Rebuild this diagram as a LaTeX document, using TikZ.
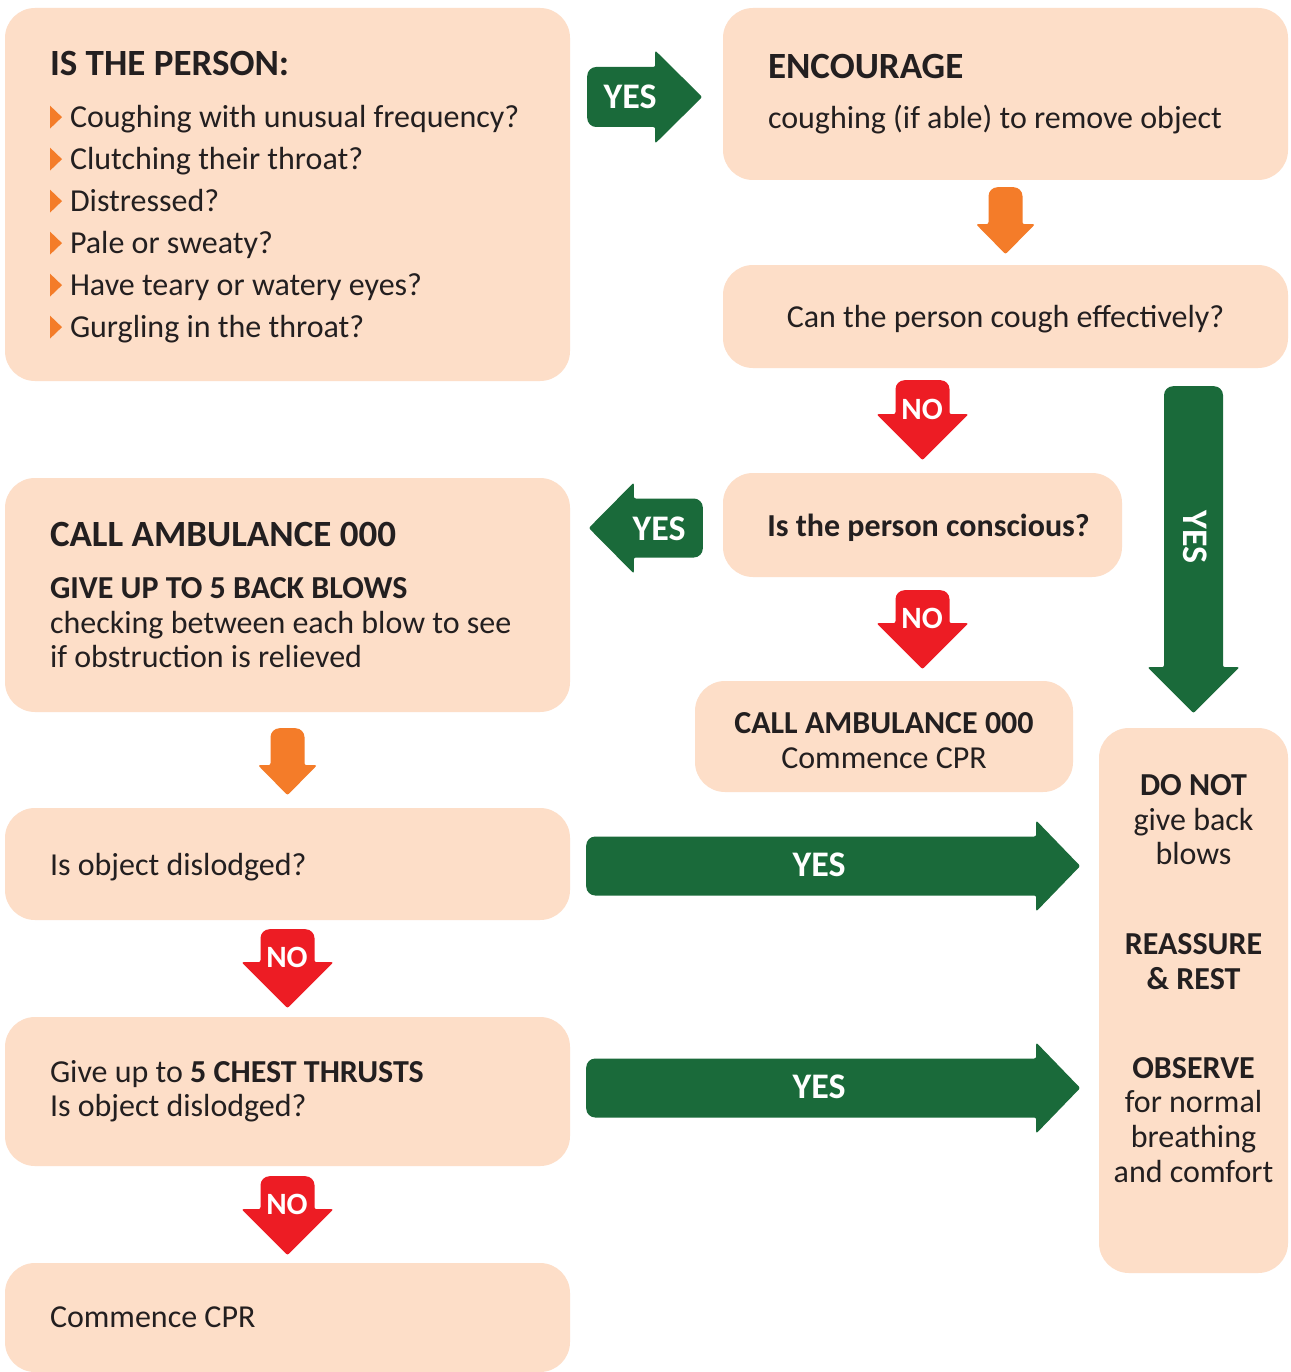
\documentclass[tikz,border=0pt]{standalone}
\usepackage{fontspec}
\setmainfont{Carlito}
\usetikzlibrary{calc}

\definecolor{peach}{RGB}{253,222,200}
\definecolor{darkgreen}{RGB}{26,106,58}
\definecolor{arroworange}{RGB}{244,124,41}
\definecolor{alertred}{RGB}{237,28,36}
\definecolor{inktext}{RGB}{35,31,32}

% block arrow: colour, tail point, angle, length, head length, shaft half width, head half width
\newcommand{\blockarrow}[7]{%
  \begin{scope}[shift={#2}, rotate=#3]
    \fill[#1] (#4-#5,-#6) [rounded corners=9pt] -- (0,-#6) -- (0,#6)
      [rounded corners=2pt] -- (#4-#5,#6) -- (#4-#5,#7) -- (#4,0) -- (#4-#5,-#7) -- cycle;
  \end{scope}}
\newcommand{\bulletmark}{\raisebox{-1pt}{\tikz[x=1pt,y=1pt,sharp corners]\fill[arroworange] (0,0) -- (0,23) -- (12,11.5) -- cycle;}\hspace{8pt}}

\begin{document}
\begin{tikzpicture}[x=1pt, y=-1pt,
  card/.style={fill=peach, rounded corners=30pt, inner sep=0pt, text=inktext,
    font=\fontsize{32}{35}\selectfont},
  oneline/.style={text depth=0pt},
  lefttext/.style={align=flush left, inner xsep=45pt, text width=475pt},
  tag/.style={text=white, inner sep=0pt, font=\bfseries\fontsize{36}{36}\selectfont},
  notag/.style={tag, font=\bfseries\fontsize{31}{31}\selectfont},
]
\fill[white, use as bounding box] (0,0) rectangle (1290,1372);

% boxes
\node[card, lefttext, minimum width=565pt, minimum height=373pt, text depth=262pt,
  font=\fontsize{32}{42}\selectfont] (isperson) at (287.5,194.5)
  {{\fontsize{37}{42}\selectfont\bfseries IS THE PERSON:}\\[10pt]
   \bulletmark Coughing with unusual frequency?\\
   \bulletmark Clutching their throat?\\
   \bulletmark Distressed?\\
   \bulletmark Pale or sweaty?\\
   \bulletmark Have teary or watery eyes?\\
   \bulletmark Gurgling in the throat?};
\node[card, lefttext, minimum width=565pt, minimum height=172pt,
  font=\fontsize{32}{38}\selectfont] (encourage) at (1005.5,94)
  {{\fontsize{37}{38}\selectfont\bfseries ENCOURAGE}\\[12pt]
   coughing (if able) to remove object};
\node[card, oneline, minimum width=565pt, minimum height=103pt] (cough) at (1005.5,316.5)
  {Can the person cough effectively?};
\node[card, oneline, minimum width=399pt, minimum height=104pt, font=\bfseries\fontsize{32}{35}\selectfont]
  (conscious) at (922.5,525) {\hspace{12pt}Is the person conscious?};
\node[card, lefttext, minimum width=565pt, minimum height=234pt,
  font=\fontsize{32}{34.5}\selectfont] (ambulance) at (287.5,595)
  {{\fontsize{37}{34.5}\selectfont\bfseries CALL AMBULANCE 000}\\[17.5pt]
   \textbf{GIVE UP TO 5 BACK BLOWS}\\
   checking between each blow to see\\
   if obstruction is relieved};
\node[card, align=flush center, text width=340pt, inner xsep=19pt, text depth=27pt,
  minimum width=378pt, minimum height=111pt] (callcpr) at (884,736.5)
  {\textbf{CALL AMBULANCE 000}\\ Commence CPR};
\node[card, minimum width=189pt, minimum height=545pt] (donot) at (1193.5,1000.5) {};
\node[text=inktext, align=center, inner sep=0pt, font=\fontsize{32}{34.7}\selectfont]
  (donottext) at ($(donot.center)+(0,-22)$)
  {\textbf{DO NOT}\\ give back\\ blows\\[55pt]
   \textbf{REASSURE}\\ \textbf{\&~REST}\\[54pt]
   \textbf{OBSERVE}\\ for normal\\ breathing\\ and comfort};
\node[card, oneline, lefttext, minimum width=565pt, minimum height=112pt] (dislodged) at (287.5,864)
  {Is object dislodged?};
\node[card, lefttext, minimum width=565pt, minimum height=149pt,
  font=\fontsize{32}{34}\selectfont] (thrusts) at (287.5,1091.5)
  {Give up to \textbf{5 CHEST THRUSTS}\\ Is object dislodged?};
\node[card, oneline, lefttext, minimum width=565pt, minimum height=109pt] (commence) at (287.5,1317.5)
  {Commence CPR};

% orange arrows
\blockarrow{arroworange}{($(encourage.south)+(0,7)$)}{-90}{67}{30}{17}{29.5}
\blockarrow{arroworange}{($(ambulance.south)+(0,16)$)}{-90}{67}{30}{17}{29.5}

% red NO arrows
\blockarrow{alertred}{($(cough.south -| conscious.center)+(0,12)$)}{-90}{80}{46}{27}{46}
\blockarrow{alertred}{($(conscious.south)+(0,13)$)}{-90}{79}{46}{27}{46}
\blockarrow{alertred}{($(dislodged.south)+(0,9)$)}{-90}{79}{46}{27}{46}
\blockarrow{alertred}{($(thrusts.south)+(0,10)$)}{-90}{79}{46}{27}{46}
\node[notag] (noA) at (922,409) {NO};
\node[notag] (noB) at (922,618) {NO};
\node[notag] (noC) at (287,957) {NO};
\node[notag] (noD) at (287,1204) {NO};

% green YES arrows
\blockarrow{darkgreen}{($(isperson.east |- encourage.center)+(17,3)$)}{0}{115}{47}{30}{46.5}
\blockarrow{darkgreen}{($(conscious.west)+(-20,3)$)}{180}{114}{45}{29.5}{45.5}
\blockarrow{darkgreen}{($(cough.south -| donot.center)+(0,18)$)}{-90}{327}{46}{29.5}{46}
\blockarrow{darkgreen}{($(dislodged.east)+(16,2)$)}{0}{494}{44}{29.5}{45.5}
\blockarrow{darkgreen}{($(thrusts.east)+(16,-3.5)$)}{0}{494}{44}{29.5}{45.5}
\node[tag] (yesA) at (630,97) {YES};
\node[tag] (yesB) at (659,529) {YES};
\node[tag, rotate=-90] (yesC) at (1195,537) {YES};
\node[tag] (yesD) at (819,865) {YES};
\node[tag] (yesE) at (819,1087) {YES};
\end{tikzpicture}
\end{document}
